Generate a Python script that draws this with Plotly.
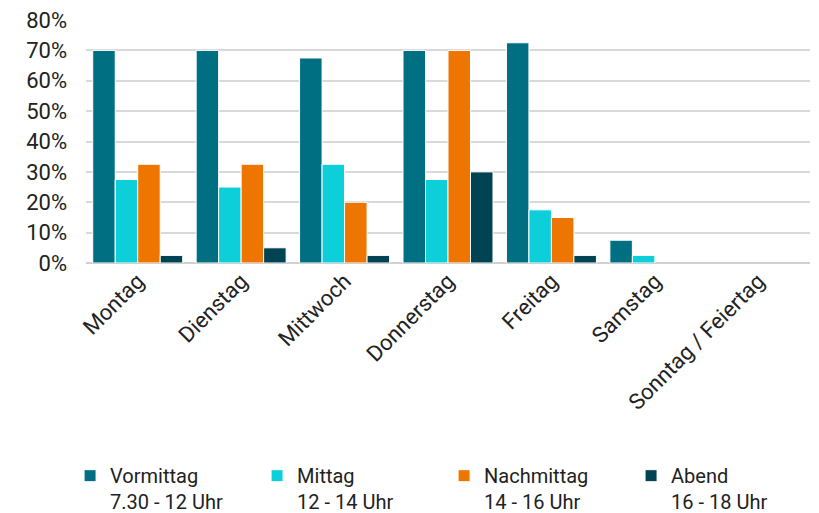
import plotly.graph_objects as go

days = ["Montag", "Dienstag", "Mittwoch", "Donnerstag", "Freitag", "Samstag", "Sonntag / Feiertag"]
vormittag = [0.70, 0.70, 0.675, 0.70, 0.725, 0.075, 0.0]
mittag = [0.275, 0.25, 0.325, 0.275, 0.175, 0.025, 0.0]
nachmittag = [0.325, 0.325, 0.20, 0.70, 0.15, 0.0, 0.0]
abend = [0.025, 0.05, 0.025, 0.30, 0.025, 0.0, 0.0]

series = [
    ("Vormittag<br>7.30 - 12 Uhr", vormittag, "#006F82"),
    ("Mittag<br>12 - 14 Uhr", mittag, "#0CCFDA"),
    ("Nachmittag<br>14 - 16 Uhr", nachmittag, "#EE7600"),
    ("Abend<br>16 - 18 Uhr", abend, "#004352"),
]

FONT = "Roboto, Lato, sans-serif"

fig = go.Figure()
for name, vals, color in series:
    fig.add_trace(go.Bar(
        x=days, y=vals, name=name,
        marker=dict(
            color=color,
            # thin white separator between neighbouring bars (none on empty bars)
            line=dict(color="white", width=[1 if v > 0 else 0 for v in vals]),
        ),
    ))

fig.update_layout(
    width=819, height=513,
    margin=dict(l=86, r=9, t=20, b=250, autoexpand=False),
    paper_bgcolor="white", plot_bgcolor="white",
    barmode="group", bargap=0.13, bargroupgap=0.0,
    font=dict(family=FONT, size=20, color="#222222"),
    showlegend=True,
    legend=dict(
        orientation="h", x=-0.022, xanchor="left", y=-0.795, yanchor="top",
        font=dict(family=FONT, size=20, color="#222222"),
        entrywidth=142, entrywidthmode="pixels",
        itemwidth=30, tracegroupgap=0, valign="top",
    ),
    xaxis=dict(
        tickangle=-45, showgrid=False, showline=False, ticks="",
        automargin=False,
        tickfont=dict(family=FONT, size=22, color="#222222"),
    ),
    yaxis=dict(
        range=[0, 0.8], dtick=0.1, tickformat=".0%",
        showgrid=True, gridcolor="#D9D9D9", gridwidth=1.5,
        zeroline=True, zerolinecolor="#D0D0D0", zerolinewidth=2,
        showline=False, ticks="", automargin=False, ticklabelstandoff=18,
        tickfont=dict(family=FONT, size=22, color="#222222"),
    ),
)

fig.write_html("out.html")
